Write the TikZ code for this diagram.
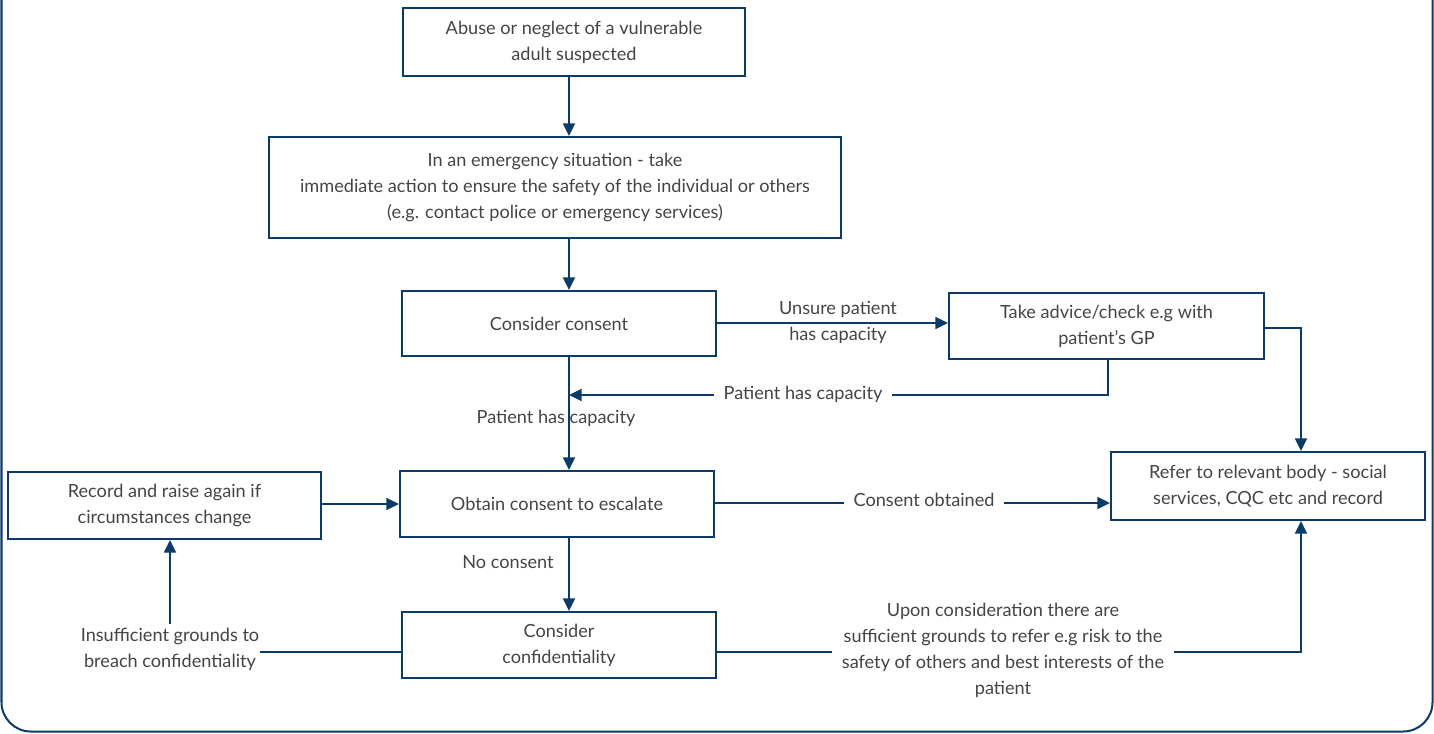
\documentclass[tikz,border=0pt]{standalone}
\usepackage{fontspec}
\setmainfont{Lato}
\usepackage{tikz}
\usetikzlibrary{arrows.meta}

\definecolor{navy}{HTML}{0C3B69}
\definecolor{ink}{HTML}{444444}

\tikzset{
  stepbox/.style={draw=navy, line width=1.5pt, align=center, inner sep=0.75pt, text=ink},
  lbl/.style={align=center, inner sep=0.75pt, text=ink},
  gaplbl/.style={lbl, fill=white, inner xsep=7pt},
  flow/.style={draw=navy, line width=1.5pt},
  arr/.style={flow, -{Triangle[length=9.5pt,width=9pt]}}
}

\begin{document}
\begin{tikzpicture}[x=0.75pt,y=0.75pt,yscale=-1,xscale=1,font=\fontsize{13.6}{19.5}\selectfont]

            \useasboundingbox (0,0) rectangle (1434,733);
            % outer frame
            \draw [navy, line width=1.5pt, rounded corners=22] (1.5,-30) |- (1432.5,731.5) -- (1432.5,-30);

            % Boxes
            \node (abuse) [stepbox, minimum width=342*0.75pt, minimum height=68*0.75pt] at (574,42) {Abuse or neglect of a vulnerable\\adult suspected};
            \node (emerg) [stepbox, minimum width=572*0.75pt, minimum height=101*0.75pt] at (555,187.5) {In an emergency situation - take\\immediate action to ensure the safety of the individual or others\\(e.g. contact police or emergency services)};
            \node (consent) [stepbox, minimum width=314*0.75pt, minimum height=65*0.75pt] at (559,323.5) {Consider consent};
            \node (advice) [stepbox, minimum width=315*0.75pt, minimum height=66*0.75pt] at (1106.5,326) {Take advice/check e.g with\\patient's GP};
            \node (obtain) [stepbox, minimum width=314*0.75pt, minimum height=66*0.75pt] at (557,504) {Obtain consent to escalate};
            \node (record) [stepbox, minimum width=313*0.75pt, minimum height=67*0.75pt] at (164.5,505.5) {Record and raise again if\\circumstances change};
            \node (refer) [stepbox, minimum width=314*0.75pt, minimum height=68*0.75pt] at (1268,486) {Refer to relevant body - social\\services, CQC etc and record};
            \node (confid) [stepbox, minimum width=314*0.75pt, minimum height=66*0.75pt] at (559,645) {Consider\\confidentiality};

            % Labels
            \node (unsure) [lbl] at (838,322) {Unsure patient\\has capacity};
            \node (hascapR) [gaplbl] at (803,394) {Patient has capacity};
            \node (hascapL) [lbl] at (556,418) {Patient has capacity};
            \node (obtained) [gaplbl] at (924,500) {Consent obtained};
            \node (nocons) [lbl] at (508,562) {No consent};
            \node (insuff) [gaplbl, inner xsep=0.75pt] at (170,649) {Insufficient grounds to\\breach confidentiality};
            \node (suff) [gaplbl] at (1003,650) {Upon consideration there are\\sufficient grounds to refer e.g risk to the\\safety of others and best interests of the\\patient};

            \coordinate (spine) at (569,0);
            \coordinate (return) at (569,395);
            \coordinate (lower) at (0,652);
            \coordinate (mid) at (0,503);

            % Connectors
            \draw [arr] (spine |- abuse.south) -- (spine |- emerg.north);
            \draw [arr] (spine |- emerg.south) -- (spine |- consent.north);
            \draw [arr] (consent.east |- 0,323) -- (advice.west |- 0,323);
            \draw [flow] (advice.south -| 1108,0) |- (hascapR.east |- return);
            \draw [arr] (hascapR.west |- return) -- (return);
            \draw [arr] (spine |- consent.south) -- (spine |- obtain.north);
            \draw [arr] (advice.east |- 0,328) -- (1301,328) -- (refer.north -| 1301,0);
            \draw [flow] (obtain.east |- mid) -- (obtained.west |- mid);
            \draw [arr] (obtained.east |- mid) -- (refer.west |- mid);
            \draw [arr] (record.east |- 0,504) -- (obtain.west |- 0,504);
            \draw [arr] (spine |- obtain.south) -- (spine |- confid.north);
            \draw [flow] (confid.west |- lower) -- (insuff.east |- lower);
            \draw [arr] (insuff.north |- 0,624) -- (insuff.north |- record.south);
            \draw [flow] (confid.east |- lower) -- (suff.west |- lower);
            \draw [arr] (suff.east |- lower) -| (refer.south -| 1301,0);

\end{tikzpicture}
\end{document}
